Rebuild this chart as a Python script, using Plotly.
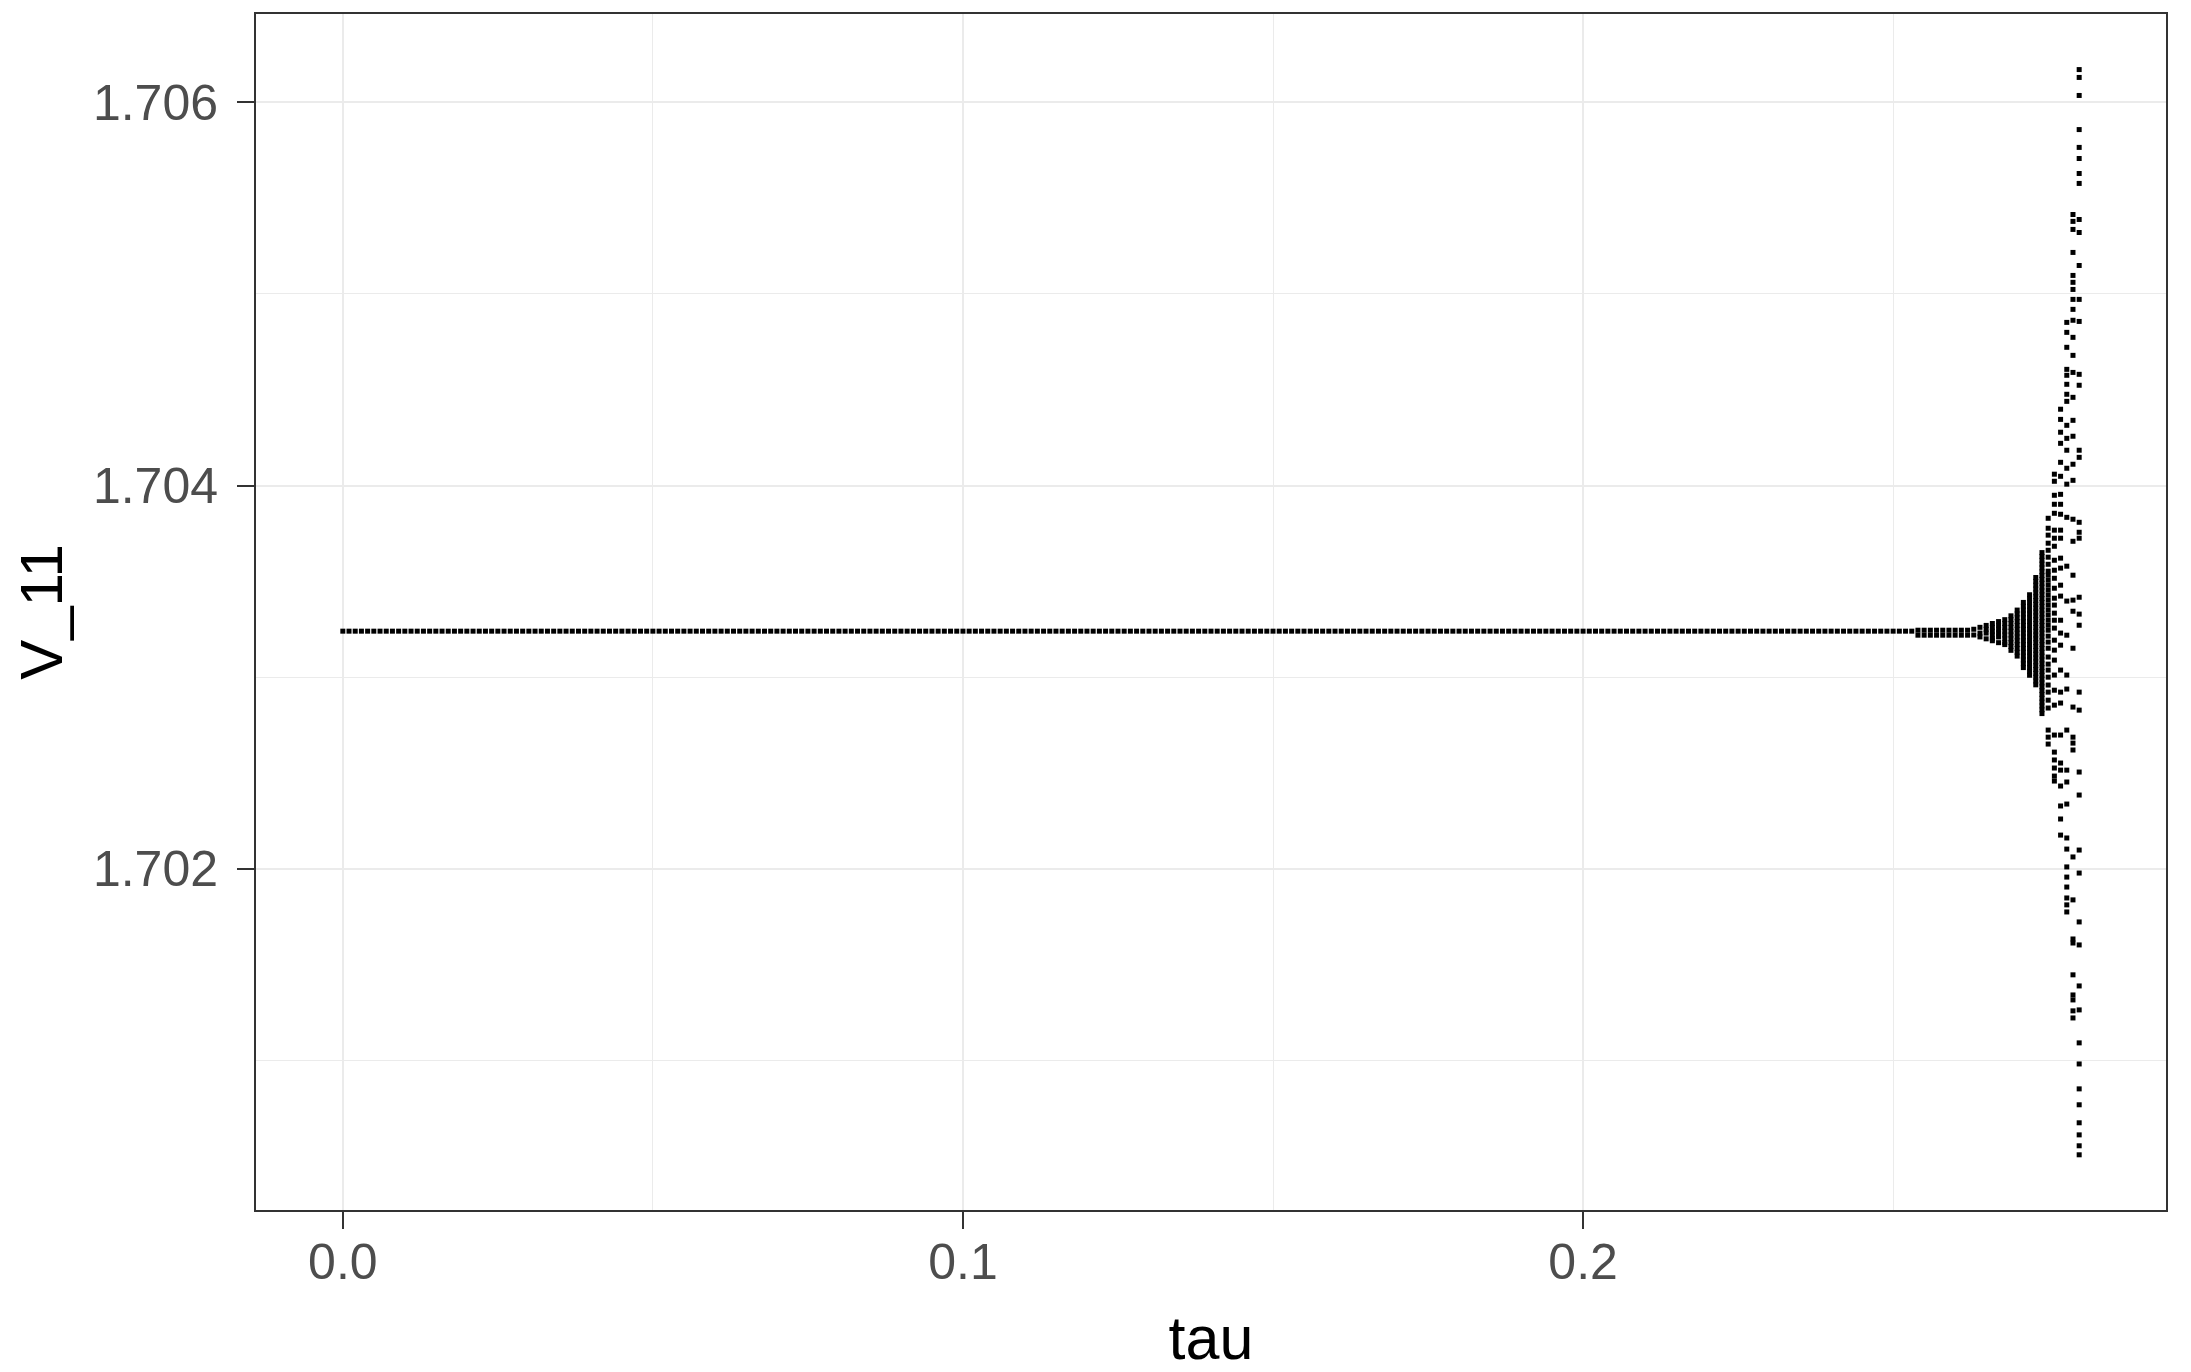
import plotly.graph_objects as go

# ---------------- data ----------------
# tau steps where every run gives the same value of V_11
tau_flat = [
    0.000, 0.001, 0.002, 0.003, 0.004, 0.005, 0.006, 0.007, 0.008, 0.009,
    0.010, 0.011, 0.012, 0.013, 0.014, 0.015, 0.016, 0.017, 0.018, 0.019,
    0.020, 0.021, 0.022, 0.023, 0.024, 0.025, 0.026, 0.027, 0.028, 0.029,
    0.030, 0.031, 0.032, 0.033, 0.034, 0.035, 0.036, 0.037, 0.038, 0.039,
    0.040, 0.041, 0.042, 0.043, 0.044, 0.045, 0.046, 0.047, 0.048, 0.049,
    0.050, 0.051, 0.052, 0.053, 0.054, 0.055, 0.056, 0.057, 0.058, 0.059,
    0.060, 0.061, 0.062, 0.063, 0.064, 0.065, 0.066, 0.067, 0.068, 0.069,
    0.070, 0.071, 0.072, 0.073, 0.074, 0.075, 0.076, 0.077, 0.078, 0.079,
    0.080, 0.081, 0.082, 0.083, 0.084, 0.085, 0.086, 0.087, 0.088, 0.089,
    0.090, 0.091, 0.092, 0.093, 0.094, 0.095, 0.096, 0.097, 0.098, 0.099,
    0.100, 0.101, 0.102, 0.103, 0.104, 0.105, 0.106, 0.107, 0.108, 0.109,
    0.110, 0.111, 0.112, 0.113, 0.114, 0.115, 0.116, 0.117, 0.118, 0.119,
    0.120, 0.121, 0.122, 0.123, 0.124, 0.125, 0.126, 0.127, 0.128, 0.129,
    0.130, 0.131, 0.132, 0.133, 0.134, 0.135, 0.136, 0.137, 0.138, 0.139,
    0.140, 0.141, 0.142, 0.143, 0.144, 0.145, 0.146, 0.147, 0.148, 0.149,
    0.150, 0.151, 0.152, 0.153, 0.154, 0.155, 0.156, 0.157, 0.158, 0.159,
    0.160, 0.161, 0.162, 0.163, 0.164, 0.165, 0.166, 0.167, 0.168, 0.169,
    0.170, 0.171, 0.172, 0.173, 0.174, 0.175, 0.176, 0.177, 0.178, 0.179,
    0.180, 0.181, 0.182, 0.183, 0.184, 0.185, 0.186, 0.187, 0.188, 0.189,
    0.190, 0.191, 0.192, 0.193, 0.194, 0.195, 0.196, 0.197, 0.198, 0.199,
    0.200, 0.201, 0.202, 0.203, 0.204, 0.205, 0.206, 0.207, 0.208, 0.209,
    0.210, 0.211, 0.212, 0.213, 0.214, 0.215, 0.216, 0.217, 0.218, 0.219,
    0.220, 0.221, 0.222, 0.223, 0.224, 0.225, 0.226, 0.227, 0.228, 0.229,
    0.230, 0.231, 0.232, 0.233, 0.234, 0.235, 0.236, 0.237, 0.238, 0.239,
    0.240, 0.241, 0.242, 0.243, 0.244, 0.245, 0.246, 0.247, 0.248, 0.249,
    0.250, 0.251, 0.252, 0.253,
]
v_flat = 1.70324

# tau steps where the runs split into two barely different values
tau_split = [0.254, 0.255, 0.256, 0.257, 0.258, 0.259, 0.260, 0.261, 0.262]
v_split = [1.703245, 1.703219]

# late tau steps: values of V_11 over all runs
tau_late = [0.263, 0.264, 0.265, 0.266, 0.267, 0.268, 0.269, 0.270, 0.271,
            0.272, 0.273, 0.274, 0.275, 0.276, 0.277, 0.278, 0.279, 0.280]

v_263 = [1.70325, 1.70322]
v_264 = [1.70326, 1.70323, 1.70321]
v_265 = [1.70327, 1.70325, 1.70323, 1.70320]
v_266 = [1.70328, 1.70326, 1.70324, 1.70322, 1.70320, 1.70319]
v_267 = [1.70329, 1.70327, 1.70325, 1.70323, 1.70321, 1.70318]
v_268 = [1.70330, 1.70328, 1.70326, 1.70324, 1.70322, 1.70320, 1.70318, 1.70317]
v_269 = [1.70332, 1.70330, 1.70328, 1.70326, 1.70324, 1.70322, 1.70320,
         1.70318, 1.70316, 1.70314]
v_270 = [1.70335, 1.70333, 1.70331, 1.70329, 1.70327, 1.70325, 1.70323,
         1.70321, 1.70319, 1.70317, 1.70315, 1.70313, 1.70311]
v_271 = [1.70339, 1.70337, 1.70335, 1.70333, 1.70331, 1.70329, 1.70327,
         1.70325, 1.70323, 1.70321, 1.70319, 1.70317, 1.70315, 1.70313,
         1.70311, 1.70309, 1.70307, 1.70305]
v_272 = [1.70343, 1.70341, 1.70339, 1.70337, 1.70335, 1.70333, 1.70331,
         1.70329, 1.70327, 1.70325, 1.70323, 1.70321, 1.70319, 1.70317,
         1.70315, 1.70313, 1.70311, 1.70309, 1.70307, 1.70305, 1.70303,
         1.70301]
v_273 = [1.70352, 1.70350, 1.70348, 1.70346, 1.70344, 1.70342, 1.70340,
         1.70338, 1.70336, 1.70334, 1.70332, 1.70330, 1.70328, 1.70326,
         1.70324, 1.70322, 1.70320, 1.70318, 1.70316, 1.70314, 1.70312,
         1.70310, 1.70308, 1.70306, 1.70304, 1.70302, 1.70300, 1.70298,
         1.70296]
v_274 = [1.70365, 1.70363, 1.70361, 1.70359, 1.70357, 1.70355, 1.70353,
         1.70351, 1.70349, 1.70347, 1.70345, 1.70343, 1.70341, 1.70339,
         1.70337, 1.70335, 1.70333, 1.70331, 1.70329, 1.70327, 1.70325,
         1.70323, 1.70321, 1.70319, 1.70317, 1.70315, 1.70313, 1.70311,
         1.70309, 1.70307, 1.70305, 1.70303, 1.70301, 1.70299, 1.70297,
         1.70295, 1.70293, 1.70291, 1.70289, 1.70287, 1.70285, 1.70283,
         1.70281]
v_275 = [1.703829, 1.703777, 1.703741, 1.703699, 1.703662, 1.703626, 1.703589,
         1.703553, 1.703532, 1.703506, 1.703480, 1.703454, 1.703428, 1.703402,
         1.703376, 1.703350, 1.703324, 1.703297, 1.703271, 1.703245, 1.703214,
         1.703183, 1.703151, 1.703105, 1.703068, 1.703037, 1.703000, 1.702959,
         1.702922, 1.702880, 1.702839, 1.702724, 1.702687, 1.702651]
v_276 = [1.704059, 1.704022, 1.703949, 1.703902, 1.703855, 1.703767, 1.703725,
         1.703683, 1.703610, 1.703558, 1.703516, 1.703464, 1.703412, 1.703376,
         1.703334, 1.703297, 1.703256, 1.703193, 1.703141, 1.703089, 1.703011,
         1.702932, 1.702854, 1.702698, 1.702609, 1.702568, 1.702526, 1.702484,
         1.702458]
v_277 = [1.704398, 1.704345, 1.704278, 1.704220, 1.704121, 1.704048, 1.703954,
         1.703902, 1.703850, 1.703767, 1.703725, 1.703621, 1.703569, 1.703480,
         1.703423, 1.703297, 1.703230, 1.703167, 1.703037, 1.702922, 1.702865,
         1.702698, 1.702552, 1.702515, 1.702432, 1.702328, 1.702260, 1.702176]
v_278 = [1.704851, 1.704799, 1.704721, 1.704606, 1.704575, 1.704528, 1.704476,
         1.704439, 1.704314, 1.704246, 1.704184, 1.704090, 1.704007, 1.703834,
         1.703579, 1.703397, 1.703219, 1.703011, 1.702938, 1.702724, 1.702515,
         1.702453, 1.702338, 1.702161, 1.702103, 1.702010, 1.701957, 1.701905,
         1.701848, 1.701812, 1.701775]
v_279 = [1.705414, 1.705378, 1.705336, 1.705216, 1.705096, 1.705060, 1.705023,
         1.704971, 1.704919, 1.704862, 1.704773, 1.704679, 1.704590, 1.704460,
         1.704340, 1.704257, 1.704111, 1.704027, 1.703824, 1.703709, 1.703532,
         1.703402, 1.703344, 1.703151, 1.702844, 1.702687, 1.702656, 1.702620,
         1.702062, 1.701838, 1.701634, 1.701613, 1.701447, 1.701342, 1.701316,
         1.701259, 1.701222]
v_280 = [1.706170, 1.706129, 1.706035, 1.705857, 1.705764, 1.705706, 1.705628,
         1.705576, 1.705388, 1.705320, 1.705148, 1.704971, 1.704856, 1.704580,
         1.704523, 1.704184, 1.704147, 1.703808, 1.703756, 1.703725, 1.703417,
         1.703329, 1.703271, 1.702922, 1.702828, 1.702505, 1.702385, 1.702098,
         1.701978, 1.701723, 1.701603, 1.701389, 1.701264, 1.701092, 1.700982,
         1.700852, 1.700769, 1.700675, 1.700612, 1.700555, 1.700508]

v_late = [v_263, v_264, v_265, v_266, v_267, v_268, v_269, v_270, v_271,
          v_272, v_273, v_274, v_275, v_276, v_277, v_278, v_279, v_280]

x_ticks = [0.0, 0.1, 0.2]
y_ticks = [1.702, 1.704, 1.706]

# ---------------- assemble points ----------------
xs, ys = [], []
for t in tau_flat:
    xs.append(t)
    ys.append(v_flat)
for t in tau_split:
    for v in v_split:
        xs.append(t)
        ys.append(v)
for t, col in zip(tau_late, v_late):
    for v in col:
        xs.append(t)
        ys.append(v)

fig = go.Figure()
fig.add_trace(go.Scatter(
    x=xs, y=ys, mode="markers",
    marker=dict(symbol="square", size=5, color="black", line=dict(width=0)),
    showlegend=False, hoverinfo="x+y",
))

FONT = "Liberation Sans, Arial, sans-serif"
grid_major = "#EBEBEB"
axis_common = dict(
    showline=True, mirror=True, linecolor="#333333", linewidth=2,
    ticks="outside", ticklen=17, tickwidth=2, tickcolor="#333333",
    showgrid=True, gridcolor=grid_major, gridwidth=2,
    zeroline=False,
    tickfont=dict(family=FONT, size=50, color="#4D4D4D"),
)

fig.update_xaxes(
    **axis_common,
    range=[-0.014, 0.294],
    tickmode="array", tickvals=x_ticks, ticktext=[f"{v:.1f}" for v in x_ticks],
    ticklabelstandoff=-10,
    minor=dict(showgrid=True, gridcolor=grid_major, gridwidth=1.3,
               tickmode="array", tickvals=[0.05, 0.15, 0.25], ticks=""),
    title=dict(text="tau", standoff=31,
               font=dict(family=FONT, size=61, color="black")),
)
fig.update_yaxes(
    **axis_common,
    range=[1.70022, 1.70646],
    tickmode="array", tickvals=y_ticks, ticktext=[f"{v:.3f}" for v in y_ticks],
    ticklabelstandoff=9,
    minor=dict(showgrid=True, gridcolor=grid_major, gridwidth=1.3,
               tickmode="array", tickvals=[1.701, 1.703, 1.705], ticks=""),
    title=dict(text="V_11", standoff=22,
               font=dict(family=FONT, size=60, color="black")),
)

fig.update_layout(
    width=2183, height=1364,
    margin=dict(l=248, r=25, t=6, b=162, autoexpand=False),
    paper_bgcolor="white", plot_bgcolor="white",
)

fig.write_html("out.html")
